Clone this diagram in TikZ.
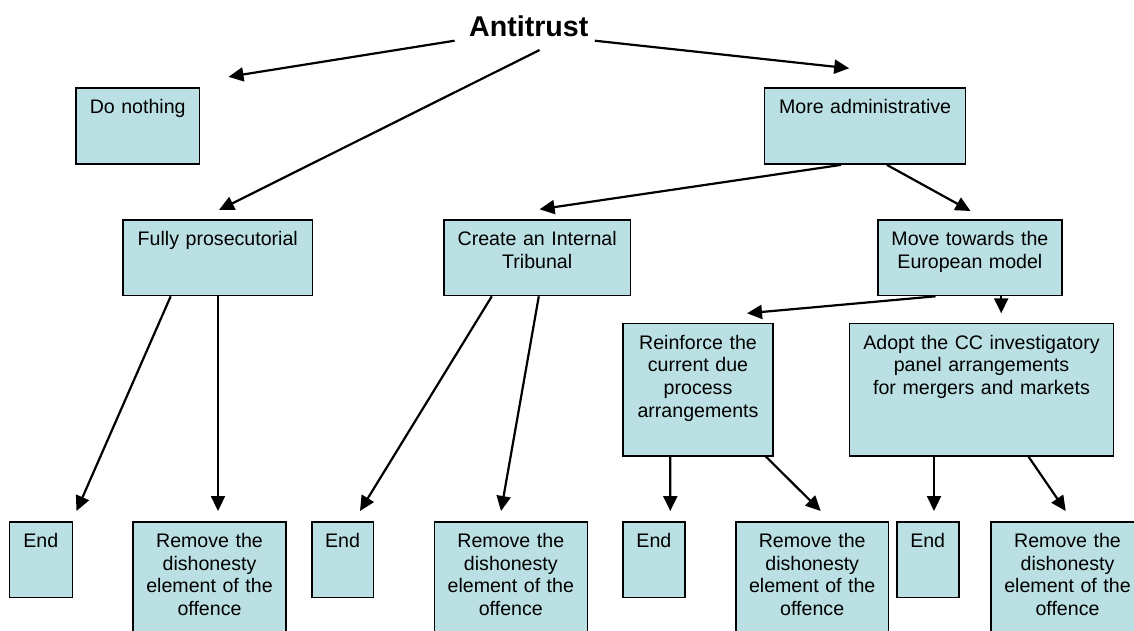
\documentclass[tikz,border=0pt]{standalone}
\usepackage{fontspec}
\setmainfont{Liberation Sans}
\usetikzlibrary{arrows.meta,calc}
\definecolor{boxfill}{RGB}{187,224,227}
\begin{document}
\begin{tikzpicture}[x=1pt,y=-1pt,
  bodyfont/.style={font=\fontsize{19.6pt}{22.8pt}\selectfont},
  box/.style={draw=black, fill=boxfill, line width=1.6pt, anchor=north, align=center,
    inner xsep=2pt, inner ysep=0pt, text height=25.5pt, bodyfont},
  conn/.style={line width=2.2pt, -{Triangle[length=15pt,width=14pt]}}]
\useasboundingbox (0,0) rectangle (1134,630);
\clip (0,0) rectangle (1134,630);

\node[anchor=base, inner sep=0pt, font=\fontsize{28.6pt}{34pt}\selectfont\bfseries] (anti) at (528.8,36) {Antitrust};

\node[box, text width=119.3pt, text depth=50.5pt] (dn) at (137.7,87.3) {Do nothing};
\node[box, text width=197pt, text depth=50.5pt] (ma) at (865.1,87.3) {More administrative};

\node[box, text width=185.1pt, text depth=49.9pt] (fp) at (217.8,219.3) {Fully prosecutorial};
\node[box, text width=182.3pt, text depth=49.9pt] (it) at (537.2,219.3) {Create an Internal\\Tribunal};
\node[box, text width=180.3pt, text depth=49.9pt] (mt) at (969.9,219.3) {Move towards the\\European model};

\node[box, text width=145.5pt, text depth=106.8pt] (rc) at (698,322.7) {Reinforce the\\current due\\process\\arrangements};
\node[box, text width=260.3pt, text depth=106.8pt] (ad) at (981.5,322.7) {Adopt the CC investigatory\\panel arrangements\\for mergers and markets};

\node[box, text width=59pt, text depth=50.2pt] (e1) at (40.8,521) {End};
\node[box, text width=149pt, text depth=94.5pt] (r1) at (209.5,521) {Remove the\\dishonesty\\element of the\\offence};
\node[box, text width=57.6pt, text depth=50.2pt] (e2) at (342.5,521) {End};
\node[box, text width=149pt, text depth=94.5pt] (r2) at (510.8,521) {Remove the\\dishonesty\\element of the\\offence};
\node[box, text width=58.3pt, text depth=50.2pt] (e3) at (653.9,521) {End};
\node[box, text width=148.3pt, text depth=94.5pt] (r3) at (812.2,521) {Remove the\\dishonesty\\element of the\\offence};
\node[box, text width=58pt, text depth=50.2pt] (e4) at (927.7,521) {End};
\node[box, text width=149pt, text depth=94.5pt] (r4) at (1067.5,521) {Remove the\\dishonesty\\element of the\\offence};

\draw[conn] ($(anti.base)+(-74.2,4.7)$) -- ($(dn.north)+(90.8,-10.5)$);
\draw[conn] ($(anti.base)+(10.8,14)$) -- ($(fp.north)+(1.2,-9.3)$);
\draw[conn] ($(anti.base)+(66,4.7)$) -- ($(ma.north)+(-15.9,-19)$);

\draw[conn] ($(ma.south)+(-24.1,0)$) -- ($(it.north)+(2.4,-10)$);
\draw[conn] ($(ma.south)+(21.8,0)$) -- ($(mt.north)+(0.6,-8.3)$);

\draw[conn] ($(fp.south)+(-47.1,0)$) -- ($(e1.north)+(35.7,-10)$);
\draw[conn] ($(fp.south)+(0.2,0)$) -- ($(r1.north)+(8.5,-10)$);
\draw[conn] ($(it.south)+(-45.4,0)$) -- ($(e2.north)+(17.5,-10)$);
\draw[conn] ($(it.south)+(1.6,0)$) -- ($(r2.north)+(-9.8,-10)$);

\draw[conn] ($(mt.south)+(-34.4,0)$) -- ($(rc.north)+(49,-9.4)$);
\draw[conn] ($(mt.south)+(31.3,0)$) -- ($(ad.north)+(19.7,-9.4)$);

\draw[conn] ($(rc.south)+(-27.7,0)$) -- ($(e3.north)+(16.4,-10)$);
\draw[conn] ($(rc.south)+(67.9,0)$) -- ($(r3.north)+(8.5,-10)$);
\draw[conn] ($(ad.south)+(-47.5,0)$) -- ($(e4.north)+(6.3,-10)$);
\draw[conn] ($(ad.south)+(47,0)$) -- ($(r4.north)+(-1.8,-10)$);
\end{tikzpicture}
\end{document}
